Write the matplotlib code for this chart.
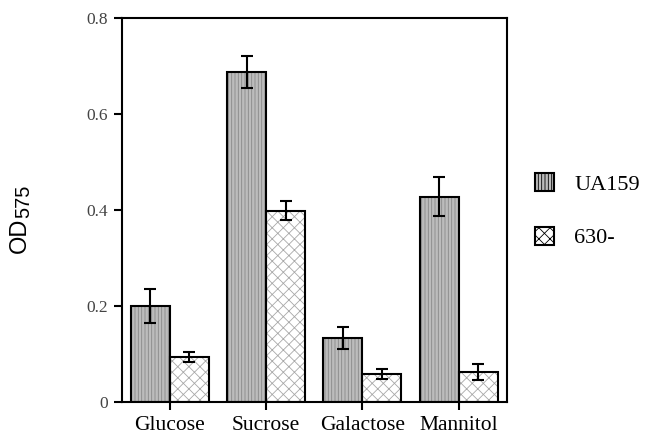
import numpy as np
import matplotlib
matplotlib.use("Agg")
import matplotlib.pyplot as plt
from matplotlib.patches import Patch

# sugar sources and OD575 values
sugars = ["Glucose", "Sucrose", "Galactose", "Mannitol"]
ua159 = [0.200, 0.688, 0.134, 0.428]
ua159_err = [0.036, 0.033, 0.023, 0.040]
mut630 = [0.094, 0.399, 0.058, 0.062]
mut630_err = [0.010, 0.019, 0.010, 0.017]
yticks = [0, 0.2, 0.4, 0.6, 0.8]
ytick_labels = ["0", "0.2", "0.4", "0.6", "0.8"]

plt.rcParams["hatch.linewidth"] = 0.6

fig = plt.figure(figsize=(6.48, 4.38), dpi=100)
ax = fig.add_axes([0.188, 0.082, 0.594, 0.877])

x = np.arange(len(sugars))
w = 0.405

# hatched fills first, then black outlines on top
ax.bar(x - w / 2, ua159, w, color="#bcbcbc", edgecolor="#888888",
       hatch="|||||", linewidth=0, zorder=2)
ax.bar(x + w / 2, mut630, w, color="white", edgecolor="#a8a8a8",
       hatch="xxx", linewidth=0, zorder=2)
ax.bar(x - w / 2, ua159, w, fill=False, edgecolor="black", linewidth=1.5, zorder=3)
ax.bar(x + w / 2, mut630, w, fill=False, edgecolor="black", linewidth=1.5, zorder=3)

ax.errorbar(x - w / 2, ua159, yerr=ua159_err, fmt="none", ecolor="black",
            elinewidth=1.5, capsize=4.5, capthick=1.5, zorder=4)
ax.errorbar(x + w / 2, mut630, yerr=mut630_err, fmt="none", ecolor="black",
            elinewidth=1.5, capsize=4.5, capthick=1.5, zorder=4)

ax.set_xlim(-0.5, 3.5)
ax.set_ylim(0, 0.8)
ax.set_xticks(x)
ax.set_xticklabels(sugars, family="Liberation Serif", fontsize=15.5)
ax.set_yticks(yticks)
ax.set_yticklabels(ytick_labels, family="Liberation Serif", fontsize=12.5, color="#444444")
ax.tick_params(direction="out", length=6, width=1.5, pad=4)

for s in ax.spines.values():
    s.set_linewidth(1.5)

# y label OD575 with a near full size subscript, as in the original
fig.text(19.5 / 648, 1 - 253 / 438, "OD", rotation=90, ha="center", va="bottom",
         family="Liberation Sans", fontsize=17)
fig.text(24 / 648, 1 - 218 / 438, "575", rotation=90, ha="center", va="bottom",
         family="Liberation Sans", fontsize=14.5)

handles = [Patch(facecolor="#bcbcbc", edgecolor="black", hatch="|||||", linewidth=1.5),
           Patch(facecolor="white", edgecolor="black", hatch="xxx", linewidth=1.5)]
fig.legend(handles, ["UA159", "630-"], loc="upper left", bbox_to_anchor=(0.826, 0.605),
           frameon=False, prop={"family": "Liberation Serif", "size": 16},
           handlelength=0.85, handleheight=0.85, handletextpad=0.9,
           labelspacing=1.45, borderpad=0, borderaxespad=0)

fig.savefig("out.png", dpi=100)
